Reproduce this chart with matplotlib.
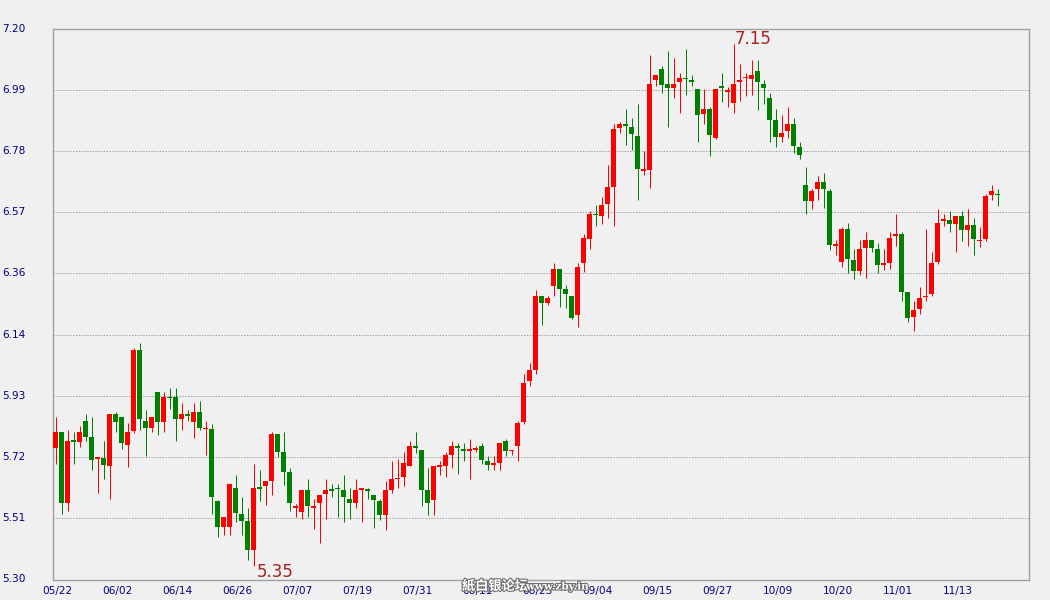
import matplotlib
matplotlib.use('Agg')
import matplotlib.pyplot as plt
import matplotlib.transforms as mtransforms
import matplotlib.patheffects as pe
import numpy as np

# ---- data (paper silver daily candles, 2012-05-22 .. 2012-11-21) ----
opens = [
    5.753, 5.810, 5.563, 5.779, 5.774, 5.848, 5.790, 5.715, 5.720, 5.691,
    5.869, 5.859, 5.763, 5.811, 6.090, 5.848, 5.822, 5.948, 5.842, 5.931,
    5.931, 5.853, 5.869, 5.842, 5.879, 5.818, 5.819, 5.570, 5.480, 5.480,
    5.617, 5.526, 5.500, 5.400, 5.617, 5.622, 5.641, 5.800, 5.738, 5.669,
    5.546, 5.532, 5.610, 5.547, 5.563, 5.594, 5.610, 5.617, 5.610, 5.579,
    5.563, 5.609, 5.610, 5.590, 5.569, 5.522, 5.610, 5.645, 5.653, 5.691,
    5.759, 5.748, 5.610, 5.574, 5.689, 5.690, 5.731, 5.759, 5.748, 5.743,
    5.746, 5.759, 5.710, 5.694, 5.701, 5.779, 5.742, 5.760, 5.842, 5.984,
    6.022, 6.279, 6.253, 6.311, 6.369, 6.300, 6.279, 6.211, 6.391, 6.473,
    6.562, 6.553, 6.594, 6.653, 6.856, 6.872, 6.862, 6.831, 6.708, 6.712,
    7.021, 7.062, 7.010, 6.994, 7.015, 7.031, 7.021, 6.990, 6.905, 6.921,
    6.822, 6.999, 6.981, 6.943, 7.015, 7.028, 7.025, 7.052, 7.010, 6.962,
    6.883, 6.825, 6.846, 6.872, 6.790, 6.662, 6.605, 6.646, 6.672, 6.641,
    6.451, 6.394, 6.510, 6.400, 6.363, 6.443, 6.469, 6.441, 6.384, 6.391,
    6.484, 6.490, 6.290, 6.205, 6.232, 6.273, 6.284, 6.394, 6.536, 6.541,
    6.525, 6.552, 6.505, 6.521, 6.466, 6.474, 6.625, 6.631,
]
highs = [
    5.859, 5.810, 5.817, 5.807, 5.828, 5.869, 5.859, 5.720, 5.776, 5.869,
    5.879, 5.859, 5.838, 6.097, 6.117, 5.886, 5.859, 5.948, 5.948, 5.959,
    5.959, 5.907, 5.886, 5.907, 5.917, 5.848, 5.837, 5.575, 5.517, 5.628,
    5.659, 5.586, 5.548, 5.697, 5.676, 5.638, 5.807, 5.800, 5.807, 5.685,
    5.559, 5.610, 5.648, 5.576, 5.590, 5.648, 5.628, 5.628, 5.659, 5.617,
    5.648, 5.617, 5.617, 5.590, 5.576, 5.638, 5.707, 5.717, 5.738, 5.776,
    5.807, 5.748, 5.686, 5.690, 5.707, 5.738, 5.776, 5.769, 5.769, 5.786,
    5.759, 5.769, 5.727, 5.727, 5.769, 5.786, 5.748, 5.848, 6.007, 6.048,
    6.300, 6.279, 6.279, 6.390, 6.369, 6.317, 6.279, 6.390, 6.490, 6.569,
    6.590, 6.618, 6.728, 6.869, 6.879, 6.921, 6.890, 6.938, 6.779, 7.110,
    7.041, 7.069, 7.121, 7.100, 7.048, 7.131, 7.041, 6.990, 6.990, 6.931,
    6.990, 7.048, 6.999, 7.148, 7.079, 7.048, 7.090, 7.090, 7.021, 6.979,
    6.921, 6.900, 6.931, 6.890, 6.810, 6.721, 6.648, 6.690, 6.700, 6.648,
    6.469, 6.517, 6.528, 6.438, 6.469, 6.500, 6.469, 6.459, 6.438, 6.500,
    6.559, 6.500, 6.290, 6.259, 6.307, 6.510, 6.428, 6.579, 6.559, 6.569,
    6.552, 6.569, 6.579, 6.548, 6.517, 6.628, 6.659, 6.648,
]
lows = [
    5.698, 5.525, 5.536, 5.698, 5.756, 5.777, 5.677, 5.598, 5.646, 5.577,
    5.808, 5.749, 5.687, 5.805, 5.815, 5.725, 5.808, 5.798, 5.808, 5.887,
    5.777, 5.815, 5.846, 5.787, 5.815, 5.729, 5.526, 5.446, 5.455, 5.455,
    5.497, 5.455, 5.366, 5.346, 5.572, 5.556, 5.593, 5.724, 5.625, 5.536,
    5.517, 5.508, 5.517, 5.474, 5.425, 5.508, 5.586, 5.517, 5.498, 5.508,
    5.545, 5.498, 5.576, 5.476, 5.505, 5.469, 5.597, 5.614, 5.624, 5.691,
    5.735, 5.555, 5.524, 5.524, 5.659, 5.655, 5.683, 5.665, 5.707, 5.645,
    5.738, 5.698, 5.677, 5.676, 5.676, 5.725, 5.729, 5.708, 5.836, 5.967,
    6.008, 6.177, 6.248, 6.279, 6.239, 6.236, 6.197, 6.170, 6.359, 6.438,
    6.518, 6.526, 6.546, 6.518, 6.839, 6.800, 6.780, 6.608, 6.696, 6.649,
    7.001, 6.977, 6.860, 6.960, 6.908, 6.970, 7.001, 6.807, 6.870, 6.760,
    6.818, 6.945, 6.929, 6.908, 6.950, 6.967, 6.970, 6.918, 6.939, 6.808,
    6.791, 6.808, 6.822, 6.770, 6.749, 6.560, 6.577, 6.608, 6.580, 6.436,
    6.418, 6.377, 6.356, 6.336, 6.349, 6.339, 6.429, 6.356, 6.367, 6.370,
    6.449, 6.260, 6.187, 6.156, 6.215, 6.260, 6.277, 6.387, 6.518, 6.497,
    6.429, 6.467, 6.449, 6.418, 6.446, 6.467, 6.608, 6.587,
]
closes = [
    5.810, 5.563, 5.779, 5.774, 5.810, 5.791, 5.711, 5.720, 5.694, 5.869,
    5.842, 5.770, 5.810, 6.090, 5.853, 5.822, 5.859, 5.842, 5.931, 5.925,
    5.853, 5.869, 5.864, 5.879, 5.822, 5.821, 5.584, 5.480, 5.517, 5.628,
    5.529, 5.501, 5.400, 5.617, 5.612, 5.638, 5.800, 5.741, 5.670, 5.563,
    5.549, 5.610, 5.553, 5.550, 5.590, 5.610, 5.606, 5.611, 5.584, 5.563,
    5.610, 5.611, 5.605, 5.574, 5.522, 5.610, 5.648, 5.648, 5.700, 5.759,
    5.753, 5.610, 5.563, 5.690, 5.691, 5.728, 5.759, 5.752, 5.743, 5.748,
    5.748, 5.711, 5.694, 5.700, 5.769, 5.742, 5.748, 5.838, 5.979, 6.021,
    6.279, 6.253, 6.269, 6.369, 6.301, 6.284, 6.201, 6.379, 6.479, 6.562,
    6.556, 6.590, 6.652, 6.852, 6.872, 6.865, 6.836, 6.715, 6.710, 7.010,
    7.041, 7.005, 6.994, 7.010, 7.031, 7.025, 7.015, 6.901, 6.921, 6.832,
    6.990, 6.994, 6.983, 7.010, 7.021, 7.031, 7.041, 7.015, 6.994, 6.884,
    6.825, 6.841, 6.872, 6.794, 6.763, 6.605, 6.641, 6.672, 6.646, 6.453,
    6.453, 6.510, 6.405, 6.363, 6.441, 6.469, 6.443, 6.384, 6.390, 6.479,
    6.490, 6.291, 6.201, 6.231, 6.269, 6.279, 6.390, 6.531, 6.541, 6.525,
    6.552, 6.505, 6.521, 6.474, 6.470, 6.621, 6.641, 6.625,
]
x_labels = ['05/22', '06/02', '06/14', '06/26', '07/07', '07/19', '07/31', '08/11',
            '08/23', '09/04', '09/15', '09/27', '10/09', '10/20', '11/01', '11/13']
label_step = 10
y_labels = ['5.30', '5.51', '5.72', '5.93', '6.14', '6.36', '6.57', '6.78', '6.99', '7.20']
y_min, y_max = 5.30, 7.20
watermark_cn = '紙白银论坛'
watermark_en = 'www.zby.in'

# ---- styling ----
BG = '#f0f0f0'
UP = '#ff0000'
DOWN = '#008000'
AXIS_TXT = '#000080'
ANNOT = '#a82020'
FRAME = '#a0a0a0'

W, H = 1050, 600
fig = plt.figure(figsize=(W / 100, H / 100), dpi=100, facecolor=BG)
# pixel-aligned plot box (spines centred on pixel columns/rows)
L, R, T, B = 52.5, 1028.5, 28.5, 579.5
ax = fig.add_axes([L / W, 1 - B / H, (R - L) / W, (B - T) / H])
ax.set_facecolor(BG)

o = np.array(opens); h = np.array(highs); lo = np.array(lows); c = np.array(closes)
n = len(o)
x = np.arange(n)
cols = np.where(c >= o, UP, DOWN)

px_per_unit = 6.0
ax.set_xlim(-0.5, -0.5 + (R - L) / px_per_unit)
ax.set_ylim(y_min, y_max)

ax.vlines(x, lo, h, colors=cols, linewidth=0.72, zorder=3)
body_bottom = np.minimum(o, c)
body_h = np.maximum(np.abs(c - o), 0.006)
ax.bar(x, body_h, bottom=body_bottom, width=5 / px_per_unit, color=cols, linewidth=0,
       zorder=4)

# grid
yt = np.linspace(y_min, y_max, len(y_labels))
ax.set_yticks(yt)
ax.set_yticklabels([])
ax.tick_params(axis='y', length=0)
ax.grid(axis='y', color=FRAME, linestyle=(0, (1.4, 1.4)), linewidth=0.72, zorder=1)
for s in ax.spines.values():
    s.set_color(FRAME)
    s.set_linewidth(1.0)

# y labels left aligned at the figure edge
trans_y = mtransforms.blended_transform_factory(fig.transFigure, ax.transData)
for v, lab in zip(yt, y_labels):
    ax.text(2 / W, v, lab, transform=trans_y, ha='left', va='center',
            fontsize=7.6, color=AXIS_TXT, clip_on=False)

# x labels
xt = np.arange(len(x_labels)) * label_step
ax.set_xticks(xt + 0.33)
ax.set_xticklabels(x_labels, fontsize=7.6, color=AXIS_TXT)
ax.tick_params(axis='x', length=0, pad=5)

# max / min annotations
imax = int(np.argmax(h)); imin = int(np.argmin(lo))
ax.annotate(f'{h[imax]:.2f}', xy=(imax, h[imax]), xytext=(0.8, 0), textcoords='offset points',
            ha='left', va='baseline', fontsize=12, color=ANNOT, zorder=6)
ax.annotate(f'{lo[imin]:.2f}', xy=(imin, lo[imin]), xytext=(2.2, -7.5), textcoords='offset points',
            ha='left', va='baseline', fontsize=12, color=ANNOT, zorder=6, annotation_clip=False)

# watermark
stroke = [pe.withStroke(linewidth=1.6, foreground='#707070')]
fig.text(462 / W, 1 - 586 / H, watermark_cn, family=['Noto Sans CJK SC', 'DejaVu Sans'],
         fontsize=9.5, fontweight='bold', color='white', ha='left', va='center',
         path_effects=stroke, zorder=10)
fig.text(526 / W, 1 - 587 / H, watermark_en, family=['DejaVu Serif'],
         fontsize=7.5, fontweight='bold', color='white', ha='left', va='center',
         path_effects=stroke, zorder=10)

fig.savefig('out.png', dpi=100, facecolor=BG)
